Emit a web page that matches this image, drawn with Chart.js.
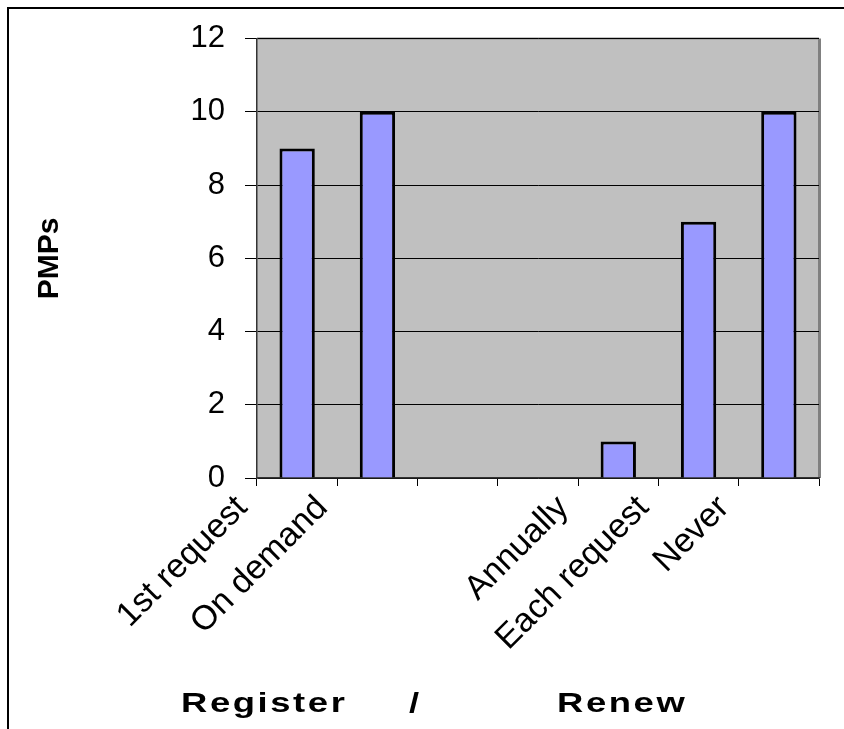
<!DOCTYPE html>
<html>
<head>
<meta charset="utf-8">
<script src="https://cdn.jsdelivr.net/npm/chart.js@4.4.1/dist/chart.umd.min.js"></script>
<style>
  html, body { margin: 0; padding: 0; background: #fff; }
  #frame {
    position: absolute; left: 7px; top: 7px; width: 850px; height: 740px;
    border-left: 2px solid #000; border-top: 2px solid #000;
  }
  #wrap { position: absolute; left: 0; top: 0; width: 844px; height: 729px; }
</style>
</head>
<body>
<div id="frame"></div>
<div id="wrap"><canvas id="pmpChart"></canvas></div>
<script>
// categories (two empty slots between the groups, as in the original)
const categories = ['1st request', 'On demand', '', '', 'Annually', 'Each request', 'Never'];
const pmpCounts = [9, 10, null, null, 1, 7, 10];
const yTicks = [0, 2, 4, 6, 8, 10, 12];

// gray plot area with border
const plotBackground = {
    id: 'plotBackground',
    beforeDraw(chart) {
        const { ctx, chartArea: a } = chart;
        ctx.save();
        ctx.fillStyle = '#C0C0C0';
        ctx.fillRect(a.left, a.top, a.right - a.left, a.bottom - a.top);
        ctx.strokeStyle = '#8c8c8c';
        ctx.lineWidth = 2;
        ctx.beginPath();
        ctx.moveTo(a.left, a.top);
        ctx.lineTo(a.right, a.top);
        ctx.stroke();
        ctx.strokeStyle = '#808080';
        ctx.lineWidth = 3;
        ctx.beginPath();
        ctx.moveTo(a.right + 0.5, a.top);
        ctx.lineTo(a.right + 0.5, a.bottom);
        ctx.stroke();
        ctx.restore();
    }
};

// x axis title, wide and letter-spaced like the original
const xTitle = {
    id: 'xTitle',
    afterDraw(chart) {
        const ctx = chart.ctx;
        const sx = 1.3;
        ctx.save();
        ctx.font = 'bold 28px "Liberation Sans", Arial, sans-serif';
        ctx.fillStyle = '#000';
        ctx.textBaseline = 'alphabetic';
        ctx.letterSpacing = '2px';
        ctx.scale(sx, 1);
        ctx.fillText('Register', 181 / sx, 712);
        ctx.fillText('/', 409 / sx, 712);
        ctx.fillText('Renew', 557 / sx, 712);
        ctx.restore();
    }
};

const ctx = document.getElementById('pmpChart').getContext('2d');
const pmpChart = new Chart(ctx, {
    type: 'bar',
    data: {
        labels: categories,
        datasets: [{
            data: pmpCounts,
            backgroundColor: '#9999FF',
            borderColor: '#000',
            borderWidth: 3,
            borderSkipped: 'bottom',
            categoryPercentage: 1,
            barPercentage: 0.44
        }]
    },
    options: {
        responsive: true,
        maintainAspectRatio: false,
        animation: false,
        layout: { padding: { top: 35, right: 25, left: 0, bottom: 0 } },
        plugins: {
            legend: { display: false },
            tooltip: { enabled: false }
        },
        scales: {
            x: {
                afterFit(scale) { scale.height = 251; },
                grid: {
                    drawOnChartArea: false,
                    drawTicks: true,
                    tickLength: 8,
                    color: '#000',
                    offset: true
                },
                border: { color: '#333', width: 1.5 },
                ticks: {
                    autoSkip: false,
                    minRotation: 45,
                    maxRotation: 45,
                    labelOffset: -55,
                    padding: 2,
                    color: '#000',
                    font: { family: '"Liberation Sans", Arial, sans-serif', size: 34 }
                }
            },
            y: {
                min: 0,
                max: 12,
                afterFit(scale) { scale.width = 257; },
                afterBuildTicks(scale) { scale.ticks = yTicks.map(v => ({ value: v })); },
                grid: { color: '#000', lineWidth: 1, tickLength: 12 },
                border: { color: '#333', width: 1.5 },
                ticks: {
                    padding: 20,
                    color: '#000',
                    font: { family: '"Liberation Sans", Arial, sans-serif', size: 31 }
                },
                title: {
                    display: true,
                    text: 'PMPs',
                    color: '#000',
                    padding: { top: 32, bottom: 0 },
                    font: { family: '"Liberation Sans", Arial, sans-serif', size: 30, weight: 'bold' }
                }
            }
        }
    },
    plugins: [plotBackground, xTitle]
});
</script>
</body>
</html>
